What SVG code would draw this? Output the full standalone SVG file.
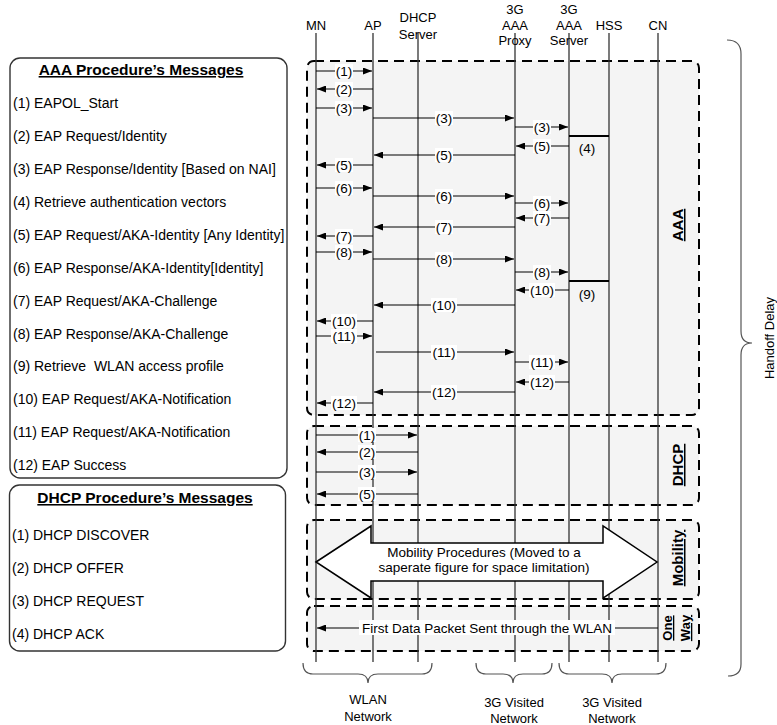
<svg xmlns="http://www.w3.org/2000/svg" width="777" height="725" viewBox="0 0 777 725">
<defs>
<marker id="ah" markerWidth="9" markerHeight="7" refX="9" refY="3.5" orient="auto" markerUnits="userSpaceOnUse"><path d="M0,0 L9,3.5 L0,7 z" fill="#000"/></marker>
<style>
text{font-family:"Liberation Sans",Arial,sans-serif;fill:#000}
.hd{font-size:13px;text-anchor:middle}
.ml{font-size:13.5px;text-anchor:middle}
.lg{font-size:14px}
.tt{font-size:15.5px;font-weight:bold;text-anchor:middle;text-decoration:underline}
.sl{font-size:15px;font-weight:bold;text-anchor:middle;text-decoration:underline}
.box{fill:#f4f4f4;stroke:#000;stroke-width:2;stroke-dasharray:10 6}
.leg{fill:#fff;stroke:#333;stroke-width:1.4}
.ll{stroke:#333;stroke-width:1.3}
.m{stroke:#000;stroke-width:1;marker-end:url(#ah)}
.lb{fill:#fff}
.br{fill:none;stroke:#555;stroke-width:1.2}
</style>
</defs>
<rect width="777" height="725" fill="#fff"/>

<g id="legend-aaa">
<rect class="leg" x="10" y="58" width="277" height="420" rx="10"/>
<text class="tt" x="141" y="75">AAA Procedure’s Messages</text>
<text class="lg" x="13" y="108">(1) EAPOL_Start</text>
<text class="lg" x="13" y="141">(2) EAP Request/Identity</text>
<text class="lg" x="13" y="174">(3) EAP Response/Identity [Based on NAI]</text>
<text class="lg" x="13" y="207">(4) Retrieve authentication vectors</text>
<text class="lg" x="13" y="240">(5) EAP Request/AKA-Identity [Any Identity]</text>
<text class="lg" x="13" y="272.5">(6) EAP Response/AKA-Identity[Identity]</text>
<text class="lg" x="13" y="305.5">(7) EAP Request/AKA-Challenge</text>
<text class="lg" x="13" y="338.5">(8) EAP Response/AKA-Challenge</text>
<text class="lg" x="13" y="371">(9) Retrieve&#160; WLAN access profile</text>
<text class="lg" x="13" y="404">(10) EAP Request/AKA-Notification</text>
<text class="lg" x="13" y="437">(11) EAP Request/AKA-Notification</text>
<text class="lg" x="13" y="470">(12) EAP Success</text>
</g>

<g id="legend-dhcp">
<rect class="leg" x="9.5" y="485" width="276" height="166" rx="10"/>
<text class="tt" x="145" y="503">DHCP Procedure’s Messages</text>
<text class="lg" x="12" y="540">(1) DHCP DISCOVER</text>
<text class="lg" x="12" y="573">(2) DHCP OFFER</text>
<text class="lg" x="12" y="605.5">(3) DHCP REQUEST</text>
<text class="lg" x="12" y="638.5">(4) DHCP ACK</text>
</g>

<g id="phase-aaa"><rect class="box" x="307" y="61" width="392" height="354" rx="7"/></g>
<g id="phase-dhcp"><rect class="box" x="307" y="426" width="392" height="79" rx="7"/></g>
<g id="phase-mobility"><rect class="box" x="307" y="520" width="392" height="79" rx="7"/></g>
<g id="phase-oneway"><rect class="box" x="307" y="606" width="392" height="45" rx="7"/></g>

<g id="node-MN"><line class="ll" x1="316" y1="33" x2="316" y2="662"/><text class="hd" x="316" y="30">MN</text></g>
<g id="node-AP"><line class="ll" x1="373" y1="33" x2="373" y2="662"/><text class="hd" x="373" y="30">AP</text></g>
<g id="node-DHCP"><line class="ll" x1="418" y1="33" x2="418" y2="662"/><text class="hd" x="418" y="22">DHCP</text><text class="hd" x="418" y="39">Server</text></g>
<g id="node-Proxy"><line class="ll" x1="515" y1="33" x2="515" y2="662"/><text class="hd" x="515" y="14">3G</text><text class="hd" x="515" y="30">AAA</text><text class="hd" x="515" y="45">Proxy</text></g>
<g id="node-Server"><line class="ll" x1="569" y1="33" x2="569" y2="662"/><text class="hd" x="569" y="14">3G</text><text class="hd" x="569" y="30">AAA</text><text class="hd" x="569" y="45">Server</text></g>
<g id="node-HSS"><line class="ll" x1="609" y1="33" x2="609" y2="662"/><text class="hd" x="609" y="30">HSS</text></g>
<g id="node-CN"><line class="ll" x1="658" y1="33" x2="658" y2="662"/><text class="hd" x="658" y="30">CN</text></g>

<g id="labels-phase">
<text class="sl" transform="translate(683,225) rotate(-90)">AAA</text>
<text class="sl" transform="translate(683,465) rotate(-90)">DHCP</text>
<text class="sl" transform="translate(683,558) rotate(-90)">Mobility</text>
<text class="sl" style="font-size:13px" transform="translate(672,628) rotate(-90)">One</text>
<text class="sl" style="font-size:13px" transform="translate(690,628) rotate(-90)">Way</text>
</g>

<g id="connectors">
<line class="m" x1="316" y1="71" x2="372" y2="71"/>
<line class="m" x1="373" y1="89" x2="317" y2="89"/>
<line class="m" x1="316" y1="108" x2="372" y2="108"/>
<line class="m" x1="373" y1="118" x2="514" y2="118"/>
<line class="m" x1="515" y1="127" x2="568" y2="127"/>
<line x1="569" y1="136" x2="609" y2="136" stroke="#000" stroke-width="2"/>
<line class="m" x1="569" y1="146" x2="516" y2="146"/>
<line class="m" x1="515" y1="155" x2="374" y2="155"/>
<line class="m" x1="373" y1="165" x2="317" y2="165"/>
<line class="m" x1="316" y1="188" x2="372" y2="188"/>
<line class="m" x1="373" y1="196" x2="514" y2="196"/>
<line class="m" x1="515" y1="203" x2="568" y2="203"/>
<line class="m" x1="569" y1="218" x2="516" y2="218"/>
<line class="m" x1="515" y1="227" x2="374" y2="227"/>
<line class="m" x1="373" y1="236" x2="317" y2="236"/>
<line class="m" x1="316" y1="252" x2="372" y2="252"/>
<line class="m" x1="373" y1="259" x2="514" y2="259"/>
<line class="m" x1="515" y1="272" x2="568" y2="272"/>
<line x1="569" y1="281" x2="609" y2="281" stroke="#000" stroke-width="2"/>
<line class="m" x1="569" y1="290" x2="516" y2="290"/>
<line class="m" x1="515" y1="305" x2="374" y2="305"/>
<line class="m" x1="373" y1="321" x2="317" y2="321"/>
<line class="m" x1="316" y1="336" x2="372" y2="336"/>
<line class="m" x1="376" y1="352" x2="514" y2="352"/>
<line class="m" x1="515" y1="362" x2="568" y2="362"/>
<line class="m" x1="569" y1="382" x2="516" y2="382"/>
<line class="m" x1="515" y1="392" x2="374" y2="392"/>
<line class="m" x1="373" y1="403" x2="317" y2="403"/>
<line class="m" x1="316" y1="435" x2="417" y2="435"/>
<line class="m" x1="418" y1="452" x2="317" y2="452"/>
<line class="m" x1="316" y1="472" x2="417" y2="472"/>
<line class="m" x1="418" y1="494" x2="317" y2="494"/>
<line class="m" x1="658" y1="628" x2="317" y2="628"/>

<g id="msg-labels">
<rect class="lb" x="335" y="64" width="18" height="14"/><text class="ml" x="344" y="75.5">(1)</text>
<rect class="lb" x="335" y="82" width="18" height="14"/><text class="ml" x="344" y="93.5">(2)</text>
<rect class="lb" x="335" y="101" width="18" height="14"/><text class="ml" x="344" y="112.5">(3)</text>
<rect class="lb" x="435" y="111" width="18" height="14"/><text class="ml" x="444" y="122.5">(3)</text>
<rect class="lb" x="533" y="120" width="18" height="14"/><text class="ml" x="542" y="131.5">(3)</text>
<text class="ml" x="587" y="153">(4)</text>
<rect class="lb" x="533" y="139" width="18" height="14"/><text class="ml" x="542" y="150.5">(5)</text>
<rect class="lb" x="435" y="148" width="18" height="14"/><text class="ml" x="444" y="159.5">(5)</text>
<rect class="lb" x="335" y="158" width="18" height="14"/><text class="ml" x="344" y="169.5">(5)</text>
<rect class="lb" x="335" y="181" width="18" height="14"/><text class="ml" x="344" y="192.5">(6)</text>
<rect class="lb" x="435" y="189" width="18" height="14"/><text class="ml" x="444" y="200.5">(6)</text>
<rect class="lb" x="533" y="196" width="18" height="14"/><text class="ml" x="542" y="207.5">(6)</text>
<rect class="lb" x="533" y="211" width="18" height="14"/><text class="ml" x="542" y="222.5">(7)</text>
<rect class="lb" x="435" y="220" width="18" height="14"/><text class="ml" x="444" y="231.5">(7)</text>
<rect class="lb" x="335" y="229" width="18" height="14"/><text class="ml" x="344" y="240.5">(7)</text>
<rect class="lb" x="335" y="245" width="18" height="14"/><text class="ml" x="344" y="256.5">(8)</text>
<rect class="lb" x="435" y="252" width="18" height="14"/><text class="ml" x="444" y="263.5">(8)</text>
<rect class="lb" x="533" y="265" width="18" height="14"/><text class="ml" x="542" y="276.5">(8)</text>
<text class="ml" x="587" y="299">(9)</text>
<rect class="lb" x="529" y="283" width="26" height="14"/><text class="ml" x="542" y="294.5">(10)</text>
<rect class="lb" x="431" y="298" width="26" height="14"/><text class="ml" x="444" y="309.5">(10)</text>
<rect class="lb" x="331" y="314" width="26" height="14"/><text class="ml" x="344" y="325.5">(10)</text>
<rect class="lb" x="331" y="329" width="26" height="14"/><text class="ml" x="344" y="340.5">(11)</text>
<rect class="lb" x="431" y="345" width="26" height="14"/><text class="ml" x="444" y="356.5">(11)</text>
<rect class="lb" x="529" y="355" width="26" height="14"/><text class="ml" x="542" y="366.5">(11)</text>
<rect class="lb" x="529" y="375" width="26" height="14"/><text class="ml" x="542" y="386.5">(12)</text>
<rect class="lb" x="431" y="385" width="26" height="14"/><text class="ml" x="444" y="396.5">(12)</text>
<rect class="lb" x="331" y="396" width="26" height="14"/><text class="ml" x="344" y="407.5">(12)</text>
<rect class="lb" x="358" y="428" width="18" height="14"/><text class="ml" x="367" y="439.5">(1)</text>
<rect class="lb" x="358" y="445" width="18" height="14"/><text class="ml" x="367" y="456.5">(2)</text>
<rect class="lb" x="358" y="465" width="18" height="14"/><text class="ml" x="367" y="476.5">(3)</text>
<rect class="lb" x="358" y="487" width="18" height="14"/><text class="ml" x="367" y="498.5">(5)</text>
<rect class="lb" x="359" y="620" width="256" height="15"/><text class="ml" x="487" y="633">First Data Packet Sent through the WLAN</text>
</g>
</g>

<g id="mobility-arrow">
<polygon points="316,562 371,526 371,543 603,543 603,526 657,562 603,598 603,581 371,581 371,598" fill="#fff" stroke="#000" stroke-width="1.5"/>
<text class="ml" x="484" y="556.5">Mobility Procedures (Moved to a</text>
<text class="ml" x="484" y="572">saperate figure for space limitation)</text>
</g>

<g id="brace-handoff">
<path class="br" d="M727,40 Q741,40 741,54 L741,331 Q741,343 752,343 Q741,343 741,355 L741,664 Q741,676 728,676"/>
<text class="hd" transform="translate(774,338) rotate(-90)">Handoff Delay</text>
</g>

<g id="brace-wlan">
<path class="br" d="M303,663 Q303,674 313,674 L358,674 Q368,674 368,683 Q368,674 378,674 L422,674 Q432,674 432,663"/>
<text class="hd" x="368" y="704">WLAN</text><text class="hd" x="368" y="721">Network</text>
</g>
<g id="brace-3g-1">
<path class="br" d="M476,663 Q476,674 486,674 L503,674 Q513,674 513,683 Q513,674 523,674 L542,674 Q552,674 552,663"/>
<text class="hd" x="514" y="707">3G Visited</text><text class="hd" x="514" y="723">Network</text>
</g>
<g id="brace-3g-2">
<path class="br" d="M559,663 Q559,674 569,674 L602,674 Q612,674 612,683 Q612,674 622,674 L656,674 Q666,674 666,663"/>
<text class="hd" x="612" y="707">3G Visited</text><text class="hd" x="612" y="723">Network</text>
</g>
</svg>
